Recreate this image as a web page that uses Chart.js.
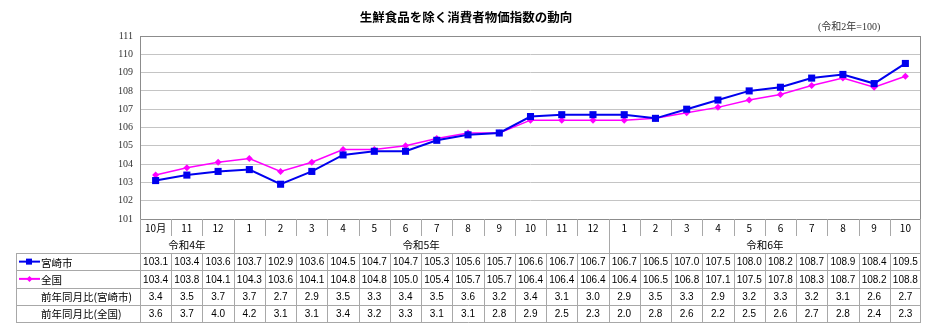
<!DOCTYPE html>
<html><head><meta charset="utf-8">
<script src="https://cdn.jsdelivr.net/npm/chart.js@4.4.0/dist/chart.umd.min.js"></script>
<style>html,body{margin:0;padding:0;background:#fff;}#wrap{width:932px;height:327px;position:relative;}</style>
</head><body><div id="wrap"><canvas id="c" width="932" height="327"></canvas></div>
<script>
const title = '生鮮食品を除く消費者物価指数の動向';
const subtitle = '(令和2年=100)';
const months = ['10月','11','12','1','2','3','4','5','6','7','8','9','10','11','12','1','2','3','4','5','6','7','8','9','10'];
const yearLabels = ['令和4年','令和5年','令和6年'];
const yearStarts = [0, 3, 15];
const seriesNames = ['宮崎市','全国'];
const miyazaki = [103.1,103.4,103.6,103.7,102.9,103.6,104.5,104.7,104.7,105.3,105.6,105.7,106.6,106.7,106.7,106.7,106.5,107.0,107.5,108.0,108.2,108.7,108.9,108.4,109.5];
const zenkoku = [103.4,103.8,104.1,104.3,103.6,104.1,104.8,104.8,105.0,105.4,105.7,105.7,106.4,106.4,106.4,106.4,106.5,106.8,107.1,107.5,107.8,108.3,108.7,108.2,108.8];
const yoyNames = ['前年同月比(宮崎市)','前年同月比(全国)'];
const yoyMiyazaki = [3.4,3.5,3.7,3.7,2.7,2.9,3.5,3.3,3.4,3.5,3.6,3.2,3.4,3.1,3.0,2.9,3.5,3.3,2.9,3.2,3.3,3.2,3.1,2.6,2.7];
const yoyZenkoku = [3.6,3.7,4.0,4.2,3.1,3.1,3.4,3.2,3.3,3.1,3.1,2.8,2.9,2.5,2.3,2.0,2.8,2.6,2.2,2.5,2.6,2.7,2.8,2.4,2.3];
const yMin = 101, yMax = 111;

const BLUE = '#0000ee', MAG = '#ff00ff';
const JP = '"Noto Sans CJK JP", sans-serif';
const NUM = '"Liberation Sans", Arial, sans-serif';
const SERIF = '"Liberation Serif", "Noto Sans CJK JP", serif';

const tablePlugin = {
  id: 'tablePlugin',
  beforeDatasetsDraw(chart) {
    const ctx = chart.ctx, a = chart.chartArea;
    ctx.save();
    ctx.strokeStyle = '#8c8c8c';
    ctx.lineWidth = 1;
    ctx.strokeRect(Math.round(a.left) + 0.5, Math.round(a.top) + 0.5, Math.round(a.right - a.left) - 1, Math.round(a.bottom - a.top));
    ctx.restore();
  },
  afterDraw(chart) {
    const ctx = chart.ctx, a = chart.chartArea, xs = chart.scales.x;
    const n = months.length;
    const colW = (a.right - a.left) / n;
    const L = (i) => xs.getPixelForValue(i) - colW / 2;
    const C = (i) => xs.getPixelForValue(i);
    const top = Math.round(a.bottom);
    const mH = 17, yH = 17, dH = 17.25;
    const yearTop = top + mH, dataTop = top + mH + yH;
    const tableLeft = 16, right = Math.round(a.right);
    const px = v => Math.round(v) + 0.5;
    ctx.save();
    ctx.strokeStyle = '#a8a8a8';
    ctx.lineWidth = 1;
    ctx.beginPath();
    for (let i = 1; i < n; i++) { ctx.moveTo(px(L(i)), top); ctx.lineTo(px(L(i)), yearTop); }
    for (let g = 1; g < yearStarts.length; g++) { ctx.moveTo(px(L(yearStarts[g])), yearTop); ctx.lineTo(px(L(yearStarts[g])), dataTop); }
    const bottom = dataTop + 4 * dH;
    ctx.moveTo(px(a.left), top); ctx.lineTo(px(a.left), bottom);
    ctx.moveTo(right - 0.5, top); ctx.lineTo(right - 0.5, bottom);
    ctx.moveTo(tableLeft + 0.5, dataTop); ctx.lineTo(tableLeft + 0.5, bottom);
    for (let r = 0; r <= 4; r++) { const y = px(dataTop + r * dH); ctx.moveTo(tableLeft, y); ctx.lineTo(right, y); }
    for (let i = 1; i < n; i++) { ctx.moveTo(px(L(i)), dataTop); ctx.lineTo(px(L(i)), bottom); }
    ctx.stroke();

    ctx.fillStyle = '#000';
    ctx.textAlign = 'center';
    ctx.textBaseline = 'middle';
    ctx.font = '10px ' + JP;
    months.forEach((m, i) => ctx.fillText(m, C(i), top + mH / 2 + 1));
    ctx.font = '10.5px ' + JP;
    yearLabels.forEach((yl, g) => {
      const s = yearStarts[g], e = (g + 1 < yearStarts.length ? yearStarts[g + 1] : n);
      ctx.fillText(yl, (L(s) + L(e)) / 2, yearTop + yH / 2 + 1);
    });
    const rows = [miyazaki, zenkoku, yoyMiyazaki, yoyZenkoku];
    ctx.font = '10px ' + NUM;
    rows.forEach((arr, r) => {
      const yc = dataTop + r * dH + dH / 2 + 1;
      arr.forEach((v, i) => ctx.fillText(v.toFixed(1), C(i), yc));
    });
    ctx.textAlign = 'left';
    ctx.font = '10.5px ' + JP;
    const labels = [seriesNames[0], seriesNames[1], yoyNames[0], yoyNames[1]];
    labels.forEach((t, r) => ctx.fillText(t, 41, dataTop + r * dH + dH / 2 + 1));
    const y1 = dataTop + dH / 2, y2 = dataTop + 1.5 * dH;
    ctx.lineWidth = 2;
    ctx.strokeStyle = BLUE; ctx.beginPath(); ctx.moveTo(19, y1); ctx.lineTo(40, y1); ctx.stroke();
    ctx.fillStyle = BLUE; ctx.fillRect(26, y1 - 3, 6, 6);
    ctx.strokeStyle = MAG; ctx.beginPath(); ctx.moveTo(19, y2); ctx.lineTo(40, y2); ctx.stroke();
    ctx.fillStyle = MAG; ctx.beginPath(); ctx.moveTo(29.5, y2 - 3); ctx.lineTo(32.5, y2); ctx.lineTo(29.5, y2 + 3); ctx.lineTo(26.5, y2); ctx.closePath(); ctx.fill();

    ctx.fillStyle = '#000';
    ctx.textAlign = 'center';
    ctx.font = 'bold 12.5px ' + JP;
    ctx.fillText(title, 466, 17);
    ctx.textAlign = 'left';
    ctx.font = '10px ' + SERIF;
    ctx.fillStyle = '#333';
    ctx.fillText(subtitle, 818, 27);
    ctx.restore();
  }
};

new Chart(document.getElementById('c'), {
  type: 'line',
  data: {
    labels: months,
    datasets: [
      { label: seriesNames[0], data: miyazaki, borderColor: BLUE, backgroundColor: BLUE, borderWidth: 2, pointStyle: 'rect', pointRadius: 5, pointBorderWidth: 0, tension: 0 },
      { label: seriesNames[1], data: zenkoku, borderColor: MAG, backgroundColor: MAG, borderWidth: 1.5, pointStyle: 'rectRot', pointRadius: 3.5, pointBorderWidth: 0, tension: 0 }
    ]
  },
  options: {
    responsive: false, animation: false, devicePixelRatio: 1,
    layout: { padding: { left: 0, top: 36, right: 11, bottom: 108 } },
    plugins: { legend: { display: false }, title: { display: false }, tooltip: { enabled: false } },
    scales: {
      x: { type: 'category', offset: true, display: false },
      y: {
        min: yMin, max: yMax,
        afterFit: s => { s.width = 140; },
        ticks: { stepSize: 1, padding: 7, color: '#333', font: { family: '"Liberation Serif", serif', size: 10 } },
        grid: { color: '#c4c4c4', drawTicks: false },
        border: { display: false }
      }
    }
  },
  plugins: [tablePlugin]
});
</script></body></html>
